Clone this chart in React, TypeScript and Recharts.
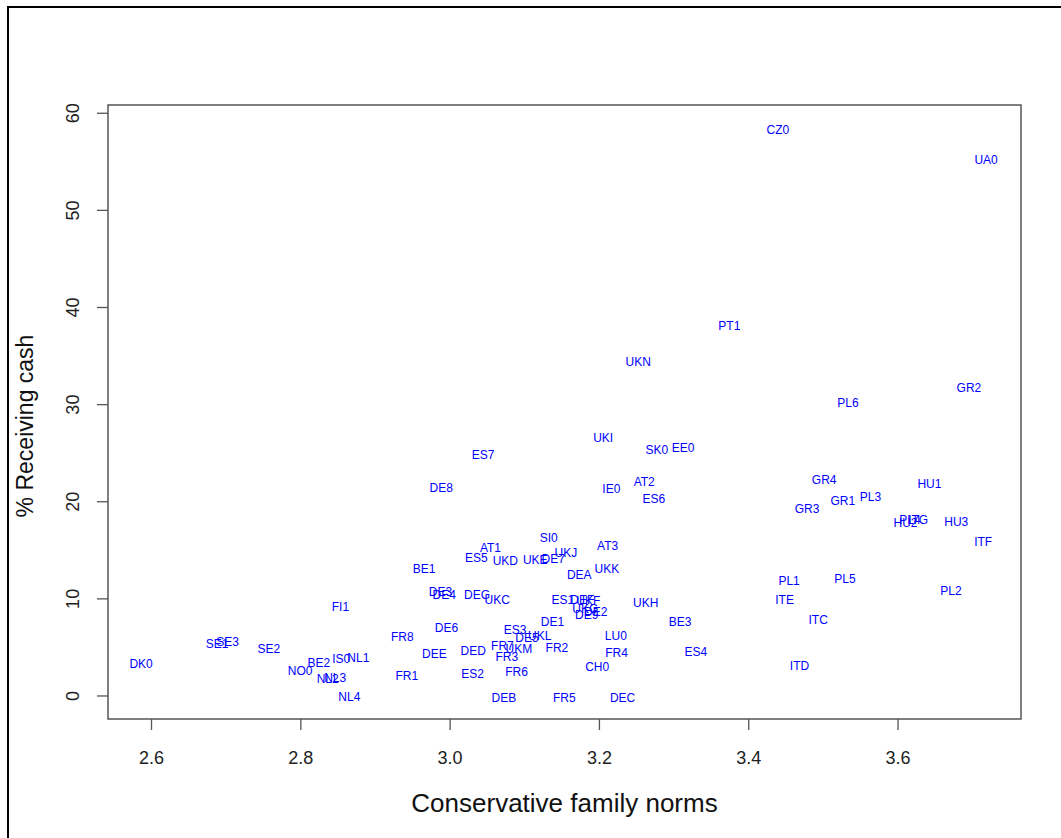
import React from 'react'
import { ScatterChart, Scatter, XAxis, YAxis, ReferenceArea } from 'recharts'

// region codes, conservative family norms score, % receiving cash
const regions = [
  'DK0', 'SE1', 'SE3', 'SE2', 'NO0', 'BE2', 'NL2', 'NL3', 'IS0', 'NL1',
  'NL4', 'FI1', 'FR8', 'FR1', 'DEE', 'BE1', 'DE3', 'DE4', 'DE6', 'DE8',
  'ES5', 'AT1', 'UKD', 'UKE', 'DE7', 'ES7', 'DEG', 'UKC', 'DED', 'ES2',
  'ES3', 'DE5', 'UKL', 'FR7', 'UKM', 'FR3', 'FR6', 'DEB', 'DE1', 'FR2',
  'FR5', 'SI0', 'UKJ', 'DEA', 'ES1', 'DEF', 'UKF', 'UKG', 'DE2', 'DE9',
  'UKI', 'UKN', 'AT3', 'UKK', 'IE0', 'AT2', 'ES6', 'SK0', 'EE0', 'UKH',
  'LU0', 'FR4', 'CH0', 'DEC', 'BE3', 'ES4', 'PT1', 'CZ0', 'UA0', 'GR2',
  'PL6', 'GR4', 'GR3', 'GR1', 'PL3', 'HU1', 'HU2', 'PL4', 'ITG', 'HU3',
  'ITF', 'PL1', 'PL5', 'PL2', 'ITE', 'ITC', 'ITD',
]

const norms = [
  2.586, 2.688, 2.702, 2.757, 2.799, 2.824, 2.836, 2.846, 2.854, 2.877,
  2.865, 2.853, 2.936, 2.942, 2.979, 2.965, 2.987, 2.992, 2.995, 2.988,
  3.035, 3.054, 3.074, 3.114, 3.138, 3.044, 3.036, 3.063, 3.031, 3.03,
  3.087, 3.103, 3.12, 3.07, 3.092, 3.076, 3.089, 3.072, 3.137, 3.143,
  3.153, 3.132, 3.155, 3.173, 3.151, 3.177, 3.185, 3.181, 3.195, 3.183,
  3.205, 3.252, 3.211, 3.21, 3.216, 3.26, 3.273, 3.277, 3.312, 3.262,
  3.222, 3.223, 3.197, 3.231, 3.308, 3.329, 3.374, 3.439, 3.718, 3.695,
  3.533, 3.501, 3.478, 3.526, 3.563, 3.642, 3.61, 3.616, 3.627, 3.678,
  3.714, 3.454, 3.529, 3.671, 3.448, 3.493, 3.468,
]

const cash = [
  3.26, 5.35, 5.59, 4.84, 2.6, 3.43, 1.75, 1.85, 3.81, 3.91,
  -0.1, 9.16, 6.07, 2.09, 4.32, 13.08, 10.74, 10.4, 7.0, 21.45,
  14.24, 15.21, 13.9, 14.0, 14.11, 24.81, 10.4, 9.88, 4.63, 2.27,
  6.8, 5.97, 6.18, 5.15, 4.84, 4.02, 2.47, -0.18, 7.62, 4.97,
  -0.18, 16.27, 14.76, 12.46, 9.88, 9.88, 9.78, 8.96, 8.65, 8.34,
  26.6, 34.4, 15.48, 13.08, 21.35, 22.03, 20.32, 25.33, 25.57, 9.58,
  6.21, 4.43, 3.02, -0.18, 7.62, 4.56, 38.1, 58.28, 55.19, 31.71,
  30.17, 22.24, 19.25, 20.08, 20.49, 21.83, 17.84, 18.12, 18.12, 17.95,
  15.89, 11.84, 12.08, 10.81, 9.88, 7.83, 3.12,
]

const xTicks = [2.6, 2.8, 3.0, 3.2, 3.4, 3.6]
const yTicks = [0, 10, 20, 30, 40, 50, 60]

const X_MIN = 2.5417
const X_MAX = 3.7647
const Y_MIN = -2.37
const Y_MAX = 60.85

const data = regions.map((name, i) => ({ name, x: norms[i], y: cash[i] }))

const FONT = '"Liberation Sans", Arial, sans-serif'
const AXIS_GREY = '#555'

function RegionLabel(props: any) {
  const { cx, cy, payload } = props
  return (
    <text
      x={cx}
      y={cy}
      textAnchor="middle"
      dominantBaseline="central"
      fontSize={12}
      fontFamily={FONT}
      fill="#0000ff"
    >
      {payload.name}
    </text>
  )
}

function XTick(props: any) {
  const { x, y, payload } = props
  return (
    <text x={x} y={y + 28} textAnchor="middle" dominantBaseline="central" fontSize={18} fontFamily={FONT} fill="#222">
      {payload.value.toFixed(1)}
    </text>
  )
}

function YTick(props: any) {
  const { x, y, payload } = props
  const tx = x - 22
  return (
    <text
      x={tx}
      y={y}
      transform={`rotate(-90, ${tx}, ${y})`}
      textAnchor="middle"
      dominantBaseline="central"
      fontSize={18}
      fontFamily={FONT}
      fill="#222"
    >
      {payload.value}
    </text>
  )
}

export default function App() {
  return (
    <div style={{ position: 'absolute', left: 0, top: 0, width: 1061, height: 838, background: '#fff' }}>
      <div
        style={{
          position: 'absolute',
          left: 7,
          top: 6,
          width: 1054,
          height: 832,
          borderLeft: '2px solid #000',
          borderTop: '2px solid #000',
          boxSizing: 'border-box',
        }}
      />
      <div style={{ position: 'absolute', left: 0, top: 0 }}>
        <ScatterChart width={1061} height={838} margin={{ top: 105, right: 40, bottom: 0, left: 0 }}>
          <XAxis
            type="number"
            dataKey="x"
            domain={[X_MIN, X_MAX]}
            ticks={xTicks}
            allowDataOverflow
            height={119}
            axisLine={false}
            tickSize={11}
            tickMargin={0}
            tickLine={{ stroke: AXIS_GREY, strokeWidth: 1.3 }}
            tick={<XTick />}
            label={{
              content: (p: any) => {
                const vb = p.viewBox
                return (
                  <text
                    x={vb.x + vb.width / 2}
                    y={vb.y + 84}
                    textAnchor="middle"
                    dominantBaseline="central"
                    fontSize={26}
                    fontFamily={FONT}
                    fill="#111"
                  >
                    Conservative family norms
                  </text>
                )
              },
            }}
          />
          <YAxis
            type="number"
            dataKey="y"
            domain={[Y_MIN, Y_MAX]}
            ticks={yTicks}
            allowDataOverflow
            width={108}
            axisLine={false}
            tickSize={11}
            tickMargin={2}
            tickLine={{ stroke: AXIS_GREY, strokeWidth: 1.3 }}
            tick={<YTick />}
            label={{
              content: (p: any) => {
                const vb = p.viewBox
                const cy = vb.y + vb.height / 2 + 14
                return (
                  <text
                    x={25}
                    y={cy}
                    transform={`rotate(-90, 25, ${cy})`}
                    textAnchor="middle"
                    dominantBaseline="central"
                    fontSize={23}
                    fontFamily={FONT}
                    fill="#111"
                  >
                    % Receiving cash
                  </text>
                )
              },
            }}
          />
          <ReferenceArea
            x1={X_MIN}
            x2={X_MAX}
            y1={Y_MIN}
            y2={Y_MAX}
            fill="none"
            stroke={AXIS_GREY}
            strokeWidth={1.5}
          />
          <Scatter data={data} shape={<RegionLabel />} isAnimationActive={false} />
        </ScatterChart>
      </div>
    </div>
  )
}
